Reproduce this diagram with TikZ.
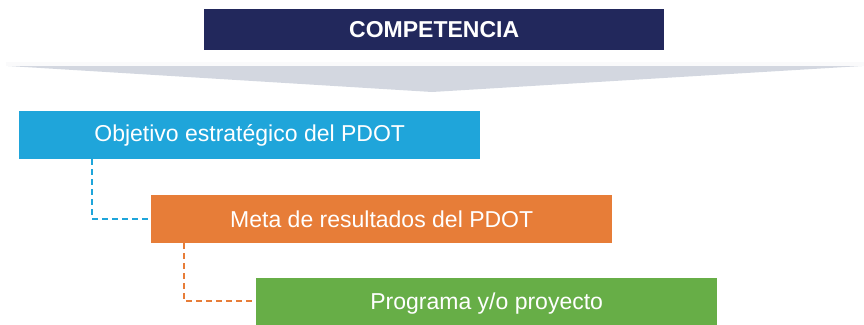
\documentclass[tikz,border=0pt]{standalone}
\usepackage{fontspec}
\setmainfont{Liberation Sans}
\definecolor{navy}{HTML}{22285C}
\definecolor{chev}{HTML}{D3D7E0}
\definecolor{cblue}{HTML}{1FA5DA}
\definecolor{corange}{HTML}{E77D38}
\definecolor{cgreen}{HTML}{67AE47}
\begin{document}
\begin{tikzpicture}[x=1pt,y=-1pt,
  box/.style={anchor=north west,inner sep=0pt,minimum height=48pt,minimum width=461pt,text=white,font=\fontsize{23}{26}\selectfont},
  conn/.style={dashed,dash pattern=on 6pt off 4pt,line width=1.6pt}]
\useasboundingbox (0,0) rectangle (864,324);
\node[anchor=north west,inner sep=0pt,fill=navy,minimum width=460pt,minimum height=41pt,text=white,font=\bfseries\fontsize{23}{26}\selectfont] (comp) at (204,9) {COMPETENCIA};
\fill[white!88!chev] (6,62) -- (864,62) -- (864,66) -- (6,66) -- cycle;
\fill[chev] (8,66) -- (862,66) -- (432,92) -- cycle;
\node[box,fill=cblue] (obj) at (19,111) {Objetivo estratégico del PDOT};
\node[box,fill=corange] (meta) at (151,195) {Meta de resultados del PDOT};
\node[box,fill=cgreen,minimum height=50pt] (prog) at (256,278) {Programa y/o proyecto};
\coordinate (c1) at (92,219);
\coordinate (c2) at (184,301);
\draw[conn,cblue] (obj.south west -| c1) -- (c1) -- (c1 -| meta.west);
\draw[conn,corange] (meta.south west -| c2) -- (c2) -- (c2 -| prog.west);
\end{tikzpicture}
\end{document}
